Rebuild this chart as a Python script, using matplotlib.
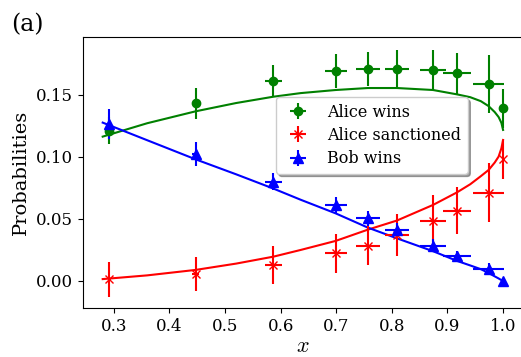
import matplotlib
matplotlib.use('Agg')
import matplotlib.pyplot as plt

plt.rcParams['font.family'] = 'DejaVu Serif'
plt.rcParams['mathtext.fontset'] = 'cm'

# valores x de los puntos experimentales
x_pts = [0.291, 0.447, 0.587, 0.699, 0.757, 0.809, 0.874, 0.917, 0.974, 1.0]
x_err = [0.0, 0.006, 0.0156, 0.020, 0.021, 0.022, 0.024, 0.025, 0.0275, 0.0]

# Alice gana
alice_gana = [0.1212, 0.1433, 0.1613, 0.1694, 0.1710, 0.1712, 0.1702, 0.1675, 0.1589, 0.1393]
alice_gana_err = [0.011, 0.0125, 0.0128, 0.0137, 0.014, 0.015, 0.016, 0.0167, 0.0235, 0.0157]

# Alice sancionada
alice_sanc = [0.0014, 0.0056, 0.0129, 0.0223, 0.0285, 0.0370, 0.0487, 0.0567, 0.0712, 0.0981]
alice_sanc_err = [0.014, 0.014, 0.015, 0.0159, 0.0155, 0.0168, 0.0208, 0.0188, 0.0236, 0.0155]

# Bob gana
bob_gana = [0.1263, 0.1022, 0.0801, 0.0613, 0.0505, 0.0411, 0.0285, 0.0202, 0.0094, 0.0]
bob_gana_err = [0.012, 0.0097, 0.007, 0.0065, 0.006, 0.006, 0.0054, 0.004, 0.0048, 0.0]

# curvas teoricas (muestreadas del grafico)
x_teo = [0.28, 0.36, 0.447, 0.52, 0.587, 0.636, 0.699, 0.757, 0.809, 0.874,
         0.917, 0.941, 0.96, 0.974, 0.985, 0.992, 0.997, 1.0]
alice_gana_teo = [0.1164, 0.1272, 0.1368, 0.1435, 0.1486, 0.1515, 0.154, 0.1556,
                  0.1556, 0.154, 0.1505, 0.1482, 0.1450, 0.1410, 0.1362, 0.1322,
                  0.1275, 0.1218]
alice_sanc_teo = [0.0015, 0.0045, 0.0089, 0.0140, 0.0196, 0.0250, 0.0323, 0.0414,
                  0.0487, 0.0613, 0.0714, 0.0780, 0.0845, 0.0895, 0.0955, 0.1003,
                  0.1070, 0.1137]
bob_gana_teo = [0.1277, 0.1135, 0.0981, 0.0860, 0.0745, 0.0655, 0.0545, 0.0430,
                0.0344, 0.0240, 0.0162, 0.0125, 0.0095, 0.0064, 0.0037, 0.0020,
                0.0007, 0.0]

fig = plt.figure(figsize=(5.21, 3.57), dpi=100)
ax = fig.add_axes([0.1587, 0.1373, 0.8453, 0.7582])

ax.plot(x_teo, alice_gana_teo, color='green', lw=1.5)
ax.plot(x_teo, alice_sanc_teo, color='red', lw=1.5)
ax.plot(x_teo, bob_gana_teo, color='blue', lw=1.5)

ax.errorbar(x_pts, alice_gana, yerr=alice_gana_err, xerr=x_err, fmt='o',
            color='green', ms=6, elinewidth=1.5, label='Alice wins')
ax.errorbar(x_pts, alice_sanc, yerr=alice_sanc_err, xerr=x_err, fmt='x',
            color='red', ms=6, mew=1.0, elinewidth=1.5, label='Alice sanctioned')
ax.errorbar(x_pts, bob_gana, yerr=bob_gana_err, xerr=x_err, fmt='^',
            color='blue', ms=7, elinewidth=1.5, label='Bob wins')

ax.set_xlim(0.244, 1.036)
ax.set_ylim(-0.0218, 0.1965)
ax.set_xticks([0.3, 0.4, 0.5, 0.6, 0.7, 0.8, 0.9, 1.0])
ax.set_yticks([0.0, 0.05, 0.10, 0.15])
ax.tick_params(labelsize=12)

ax.set_xlabel('$x$', fontsize=16, labelpad=0)
ax.set_ylabel('Probabilities', fontsize=14)

ax.legend(loc='upper left', bbox_to_anchor=(0.439, 0.779), borderaxespad=0,
          fontsize=11.5, shadow=True, fancybox=True, labelspacing=0.4)

fig.text(0.021, 0.964, '(a)', fontsize=17, va='top', ha='left')

plt.savefig('out.png', dpi=100)
